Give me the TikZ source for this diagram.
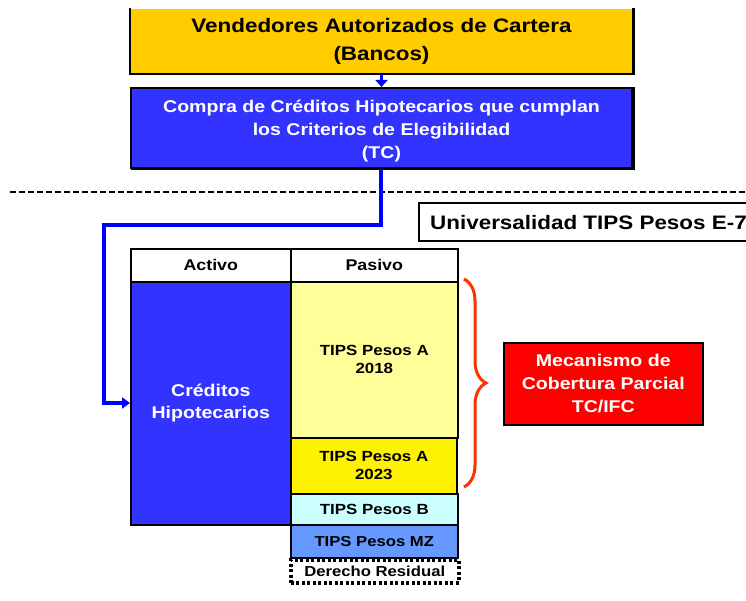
\documentclass[tikz,border=0pt]{standalone}
\usepackage{fontspec}
\setmainfont{Liberation Sans}[FakeStretch=1.15]
\usetikzlibrary{arrows.meta,decorations.pathreplacing,calc}
\definecolor{topyel}{HTML}{FFCC00}
\definecolor{boxblue}{HTML}{3333FF}
\definecolor{lineblue}{HTML}{0000FF}
\definecolor{ltyel}{HTML}{FFFF99}
\definecolor{ltcyan}{HTML}{CCFFFF}
\definecolor{mzblue}{HTML}{6699FF}
\definecolor{bracered}{HTML}{FF3300}
\tikzset{
  cell/.style={draw=black, line width=1.6pt, inner sep=0pt, anchor=north west, align=center, font=\bfseries},
  bigbox/.style={draw=black, line width=2pt, inner sep=0pt, anchor=north west, align=center, font=\bfseries},
  conn/.style={draw=lineblue, line width=4pt, -{Triangle[length=8pt,width=11pt]}},
}
\begin{document}
\begin{tikzpicture}[x=1pt,y=-1pt]
\useasboundingbox (0,0) rectangle (746,601);
% top boxes
\node[bigbox, draw=none, fill=topyel, minimum width=501pt, minimum height=64pt, font=\bfseries\fontsize{19.5}{28}\selectfont] (vend) at (130,8) {Vendedores Autorizados de Cartera\\(Bancos)};
\draw[line width=2pt] (vend.north west) -- (vend.south west) -- (vend.south east);
\draw[line width=3pt] ($(vend.south east)+(0,1)$) -- (vend.north east);
\node[bigbox, fill=boxblue, minimum width=501pt, minimum height=80pt] (compra) at (130,87) {};
\draw[line width=3pt] ($(compra.south west)+(1,0)$) -- (compra.south east) -- (compra.north east);
\node[align=center, inner sep=0pt, text=white, font=\bfseries\fontsize{17}{23}\selectfont] (compratxt) at ($(compra.center)+(0,3)$) {Compra de Créditos Hipotecarios que cumplan\\los Criterios de Elegibilidad\\(TC)};
\draw[draw=lineblue, line width=3pt, -{Triangle[length=7pt,width=12pt]}] (vend.south) -- (compra.north);
% dashed separator
\coordinate (dl) at (10,192);
\coordinate (dr) at (746,192);
\draw[line width=1.5pt, dash pattern=on 6pt off 3pt] (dl) -- (dr);
% title
\node[bigbox, minimum width=340pt, minimum height=38pt] (univ) at (418,202) {};
\node[anchor=west, inner sep=0pt, font=\bfseries\fontsize{19.5}{22}\selectfont] (univt) at ($(univ.west)+(12,1)$) {Universalidad TIPS Pesos E-7};
% table
\node[cell, fill=white, minimum width=160pt, minimum height=33pt, font=\bfseries\fontsize{15.5}{18}\selectfont] (activo) at (130,248) {Activo};
\node[cell, fill=white, minimum width=167pt, minimum height=33pt, font=\bfseries\fontsize{15.5}{18}\selectfont] (pasivo) at (290,248) {Pasivo};
\node[cell, fill=boxblue, text=white, minimum width=160pt, minimum height=243pt, font=\bfseries\fontsize{17}{22}\selectfont] (cred) at (130,281) {Créditos\\Hipotecarios};
\node[cell, fill=ltyel, minimum width=167pt, minimum height=156pt, font=\bfseries\fontsize{14.7}{18}\selectfont] (a18) at (290,281) {TIPS Pesos A\\2018};
\node[cell, fill=yellow, minimum width=166pt, minimum height=56pt, font=\bfseries\fontsize{14.7}{18}\selectfont] (a23) at (290,437) {TIPS Pesos A\\2023};
\node[cell, fill=ltcyan, minimum width=167pt, minimum height=31pt, font=\bfseries\fontsize{14.7}{16}\selectfont] (tb) at (290,493) {TIPS Pesos B};
\node[cell, fill=mzblue, minimum width=167pt, minimum height=33pt, font=\bfseries\fontsize{14.5}{16}\selectfont] (mz) at (290,524) {TIPS Pesos MZ};
\node[cell, draw=black, line width=3.5pt, dash pattern=on 3pt off 2.5pt, minimum width=168pt, minimum height=23pt, font=\bfseries\fontsize{14.5}{15}\selectfont] (der) at (289,558) {Derecho Residual};
% connector
\coordinate (c1) at (381,225);
\coordinate (c2) at (104,225);
\coordinate (c3) at (104,403);
\draw[conn] (compra.south -| c1) -- (c1) -- (c2) -- (c3) -- (c3 -| cred.west);
% brace
\coordinate (b1) at (464,279);
\coordinate (b2) at (464,487);
\draw[draw=bracered, line width=3pt, decorate, decoration={brace, amplitude=22pt, aspect=0.5}] (b1) -- (b2);
% red box
\node[bigbox, line width=1.6pt, fill=red, text=white, minimum width=199pt, minimum height=82pt, font=\bfseries\fontsize{17}{23}\selectfont] (mec) at (503,342) {Mecanismo de\\Cobertura Parcial\\TC/IFC};
\end{tikzpicture}
\end{document}
